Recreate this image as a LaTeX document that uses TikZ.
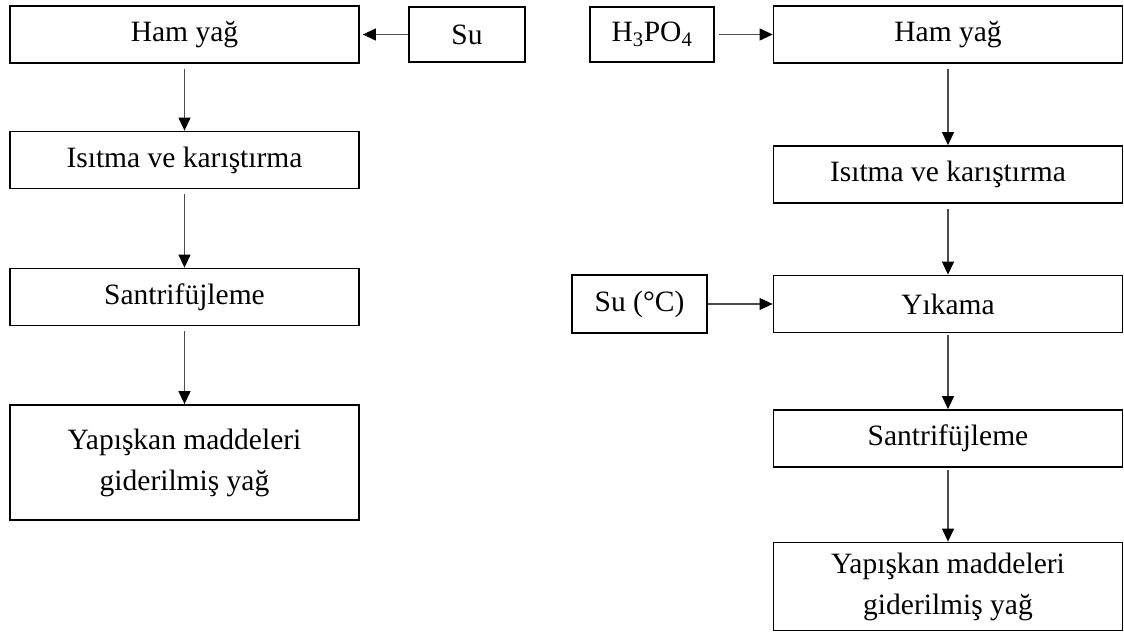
\documentclass[tikz,border=0pt]{standalone}
\usepackage{fontspec}
\setmainfont{Liberation Serif}
\usetikzlibrary{arrows.meta}
\begin{document}
\begin{tikzpicture}[x=1pt,y=-1pt,
  box/.style={draw=black, line width=1.8pt, rectangle, inner sep=0pt, align=center,
              font=\fontsize{29.5}{41}\selectfont},
  wide/.style={box, minimum width=349pt, minimum height=57pt},
  flow/.style={draw=black!70, line width=1.2pt,
               -{Triangle[length=13pt,width=12pt,color=black]}},
]
\useasboundingbox (0,0) rectangle (1124,632);

% left process: water degumming
\node[wide] (L1) at (184.5,34.5) {Ham yağ};
\node[box, minimum width=116pt, minimum height=55pt] (Su) at (467,34.5) {Su};
\node[wide] (L2) at (184.5,160) {Isıtma ve karıştırma};
\node[wide] (L3) at (184.5,297) {Santrifüjleme};
\node[wide, minimum height=115pt] (L4) at (184.5,462.5) {Yapışkan maddeleri\\giderilmiş yağ};

\draw[flow, shorten >=3pt] (Su.west) -- (L1.east);
\draw[flow, shorten <=5pt] (L1.south) -- (L2.north);
\draw[flow, shorten <=5pt] (L2.south) -- (L3.north);
\draw[flow, shorten <=5pt] (L3.south) -- (L4.north);

% right process: acid degumming
\node[box, minimum width=124pt, minimum height=55pt] (Acid) at (652,34.5)
  {H\textsubscript{3}PO\textsubscript{4}};
\node[wide] (R1) at (948,34.5) {Ham yağ};
\node[wide] (R2) at (948,174.5) {Isıtma ve karıştırma};
\node[wide] (R3) at (948,304) {Yıkama};
\node[box, minimum width=135pt, minimum height=58pt] (Water) at (639.5,304) {Su (°C)};
\node[wide] (R4) at (948,438.5) {Santrifüjleme};
\node[wide, minimum height=88pt] (R5) at (948,586.5) {Yapışkan maddeleri\\giderilmiş yağ};

\draw[flow, shorten <=4pt] (Acid.east) -- (R1.west);
\draw[flow, shorten <=5pt] (R1.south) -- (R2.north);
\draw[flow, shorten <=5pt] (R2.south) -- (R3.north);
\draw[flow] (Water.east) -- (R3.west);
\draw[flow, shorten <=2pt] (R3.south) -- (R4.north);
\draw[flow, shorten <=2pt] (R4.south) -- (R5.north);
\end{tikzpicture}
\end{document}
